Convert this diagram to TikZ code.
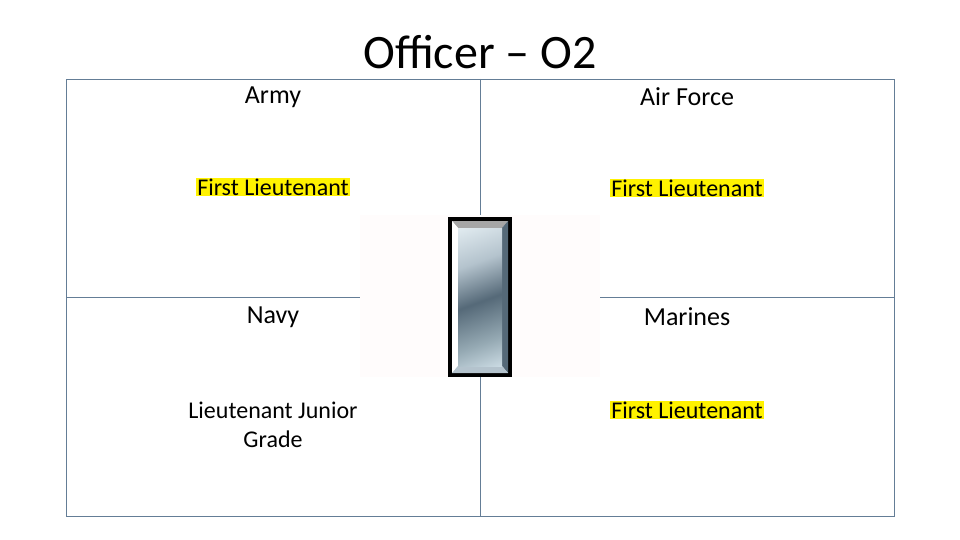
\documentclass[tikz,border=0pt]{standalone}
\usepackage{fontspec}
\setmainfont{Carlito}
\definecolor{s1}{RGB}{225,235,240}
\definecolor{s2}{RGB}{180,195,205}
\definecolor{s3}{RGB}{85,105,120}
\definecolor{s4}{RGB}{150,170,180}
\definecolor{s5}{RGB}{215,230,238}
\definecolor{s6}{RGB}{140,160,170}
\pgfdeclareverticalshading{silver}{100bp}{
 color(0bp)=(s6); color(15bp)=(s5); color(30bp)=(s4); color(48bp)=(s3); color(65bp)=(s2); color(82bp)=(s1); color(100bp)=(s4)}
\definecolor{frame}{RGB}{100,125,150}
\tikzset{lab/.style={font=\fontsize{26}{28}\selectfont, align=center},
 hl/.style={lab, fill=yellow, inner sep=1pt, font=\fontsize{24}{26}\selectfont},
 plain/.style={lab, inner sep=1pt, font=\fontsize{24}{29}\selectfont}}
\begin{document}
\begin{tikzpicture}[x=1pt,y=-1pt]
\useasboundingbox (0,0) rectangle (960,540);
\fill[white] (0,0) rectangle (960,540);
\draw[frame, line width=0.8pt] (66,79) rectangle (894,516);
\draw[frame, line width=0.8pt] (480,79) -- (480,516);
\draw[frame, line width=1pt] (66,297) -- (894,297);
\node[font=\fontsize{48}{50}\selectfont, fill=white, inner sep=2pt] (title) at (480,52) {Officer – O2};
\node[lab] (army) at (273,97) {Army};
\node[lab] (af) at (687,97) {Air Force};
\node[lab] (navy) at (273,317) {Navy};
\node[lab] (mar) at (687,317) {Marines};
\node[hl] (r1) at (273,187) {First Lieutenant};
\node[hl] (r2) at (687,188) {First Lieutenant};
\node[plain] (r3) at (273,425) {Lieutenant Junior\\Grade};
\node[hl] (r4) at (687,410) {First Lieutenant};
% insignia
\fill[red!1!white] (360,215) rectangle (600,377);
\fill[black] (448,217) rectangle (512,377);
\fill[s5] (452,221) rectangle (508,373);
\fill[gray!70] (452,221) -- (508,221) -- (502,228) -- (458,228) -- cycle;
\fill[s3] (508,221) -- (508,373) -- (502,366) -- (502,228) -- cycle;
\fill[white] (452,221) -- (458,228) -- (458,366) -- (452,373) -- cycle;
\fill[s2] (452,373) -- (458,366) -- (502,366) -- (508,373) -- cycle;
\shade[shading=silver, shading angle=20] (458,228) rectangle (502,366);
\end{tikzpicture}
\end{document}
